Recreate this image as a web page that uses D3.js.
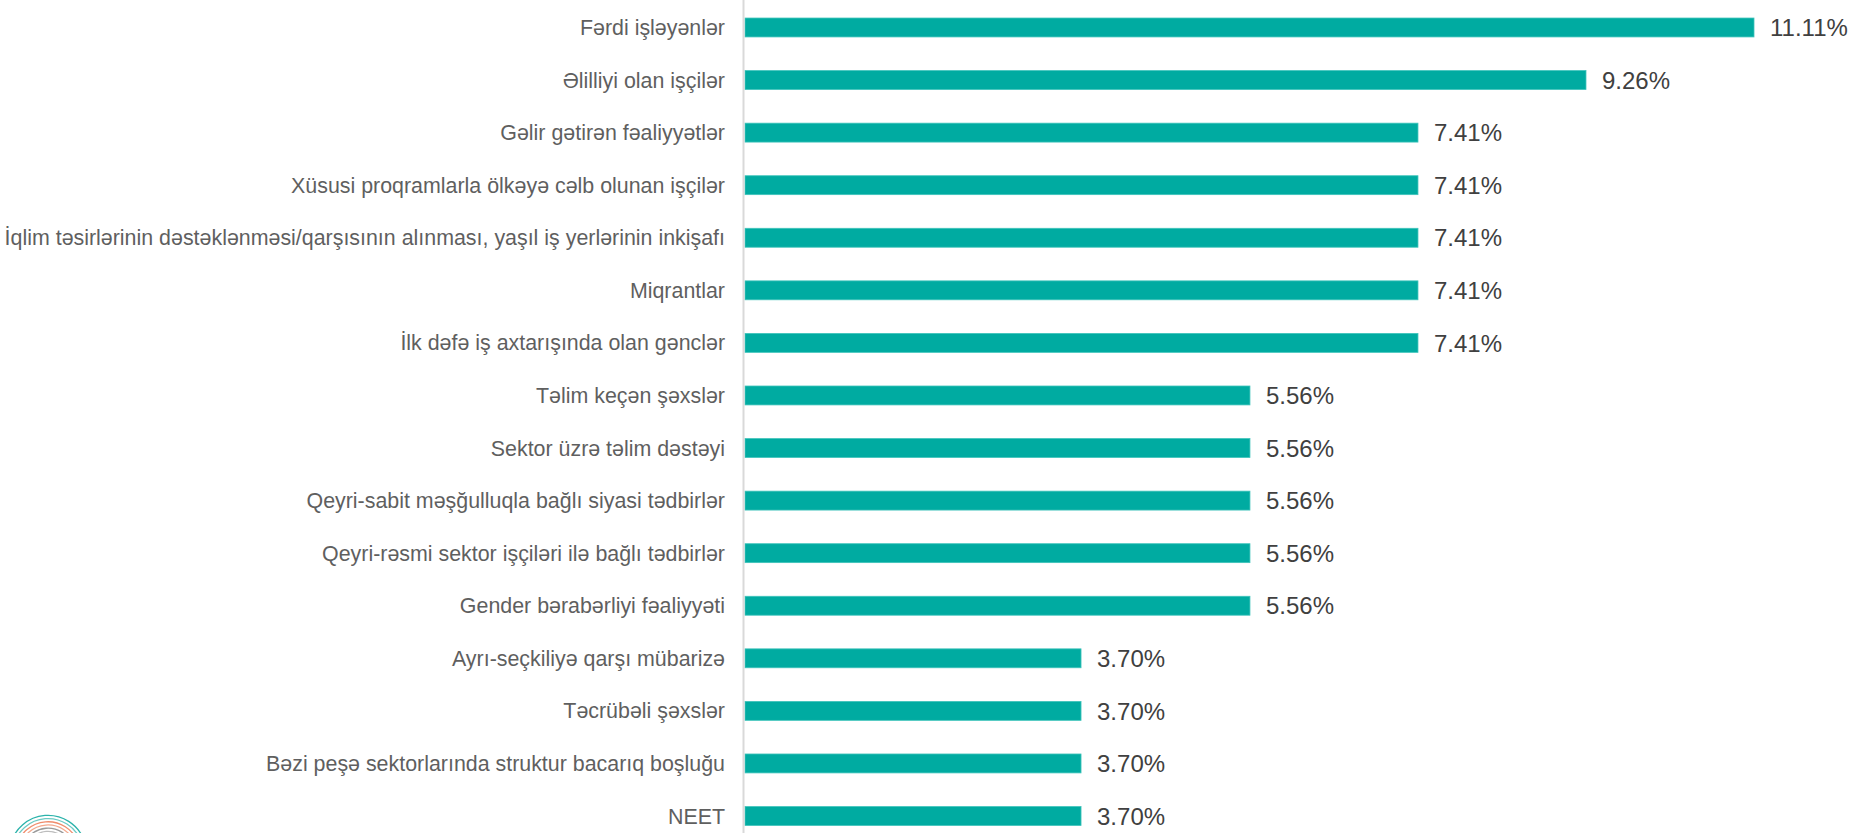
<!DOCTYPE html>
<html>
<head>
<meta charset="utf-8">
<script src="https://cdn.jsdelivr.net/npm/d3@7"></script>
<style>
  html, body { margin: 0; padding: 0; background: #fff; overflow: hidden; }
  text { font-family: "Liberation Sans", Arial, sans-serif; }
</style>
</head>
<body>
<script>
// categories, top to bottom
const categories = [
  "Fərdi işləyənlər",
  "Əlilliyi olan işçilər",
  "Gəlir gətirən fəaliyyətlər",
  "Xüsusi proqramlarla ölkəyə cəlb olunan işçilər",
  "İqlim təsirlərinin dəstəklənməsi/qarşısının alınması, yaşıl iş yerlərinin inkişafı",
  "Miqrantlar",
  "İlk dəfə iş axtarışında olan gənclər",
  "Təlim keçən şəxslər",
  "Sektor üzrə təlim dəstəyi",
  "Qeyri-sabit məşğulluqla bağlı siyasi tədbirlər",
  "Qeyri-rəsmi sektor işçiləri ilə bağlı tədbirlər",
  "Gender bərabərliyi fəaliyyəti",
  "Ayrı-seçkiliyə qarşı mübarizə",
  "Təcrübəli şəxslər",
  "Bəzi peşə sektorlarında struktur bacarıq boşluğu",
  "NEET"
];

// percentage values
const values = [11.11, 9.26, 7.41, 7.41, 7.41, 7.41, 7.41, 5.56, 5.56, 5.56, 5.56, 5.56, 3.70, 3.70, 3.70, 3.70];

const width = 1854, height = 833;
const barColor = "#00ABA1";

const svg = d3.select("body")
  .append("svg")
  .attr("width", width)
  .attr("height", height);

const data = categories.map((c, i) => ({ name: c, value: values[i] }));

const x = d3.scaleLinear()
  .domain([0, 11.11])
  .range([745, 1754]);

const y = d3.scaleBand()
  .domain(categories)
  .range([1.2, 842.3])
  .paddingInner(0.64)
  .paddingOuter(0.32);

// bars
svg.selectAll("rect.bar")
  .data(data)
  .enter()
  .append("rect")
  .attr("class", "bar")
  .attr("x", x(0))
  .attr("y", d => y(d.name))
  .attr("width", d => x(d.value) - x(0))
  .attr("height", y.bandwidth())
  .attr("fill", barColor)
  .attr("stroke", "#3fc4bb")
  .attr("stroke-width", 0.8);

// vertical axis line
svg.append("line")
  .attr("x1", 743.5)
  .attr("x2", 743.5)
  .attr("y1", 0)
  .attr("y2", height)
  .attr("stroke", "#d9d9d9")
  .attr("stroke-width", 2);

// category labels
svg.selectAll("text.cat")
  .data(data)
  .enter()
  .append("text")
  .attr("class", "cat")
  .attr("x", 725)
  .attr("y", d => y(d.name) + y.bandwidth() / 2)
  .attr("dy", "0.35em")
  .attr("text-anchor", "end")
  .attr("font-size", 21.4)
  .attr("fill", "#5f5f5f")
  .text(d => d.name);

// value labels
svg.selectAll("text.val")
  .data(data)
  .enter()
  .append("text")
  .attr("class", "val")
  .attr("x", d => x(d.value) + 16)
  .attr("y", d => y(d.name) + y.bandwidth() / 2)
  .attr("dy", "0.36em")
  .attr("font-size", 24)
  .attr("fill", "#404040")
  .text(d => d.value.toFixed(2) + "%");

// logo fragment in the bottom-left corner (cut off by the page edge)
const logo = svg.append("g").attr("transform", "translate(48, 854)");
const arcColors = ["#2bb3ab", "#6ccac4", "#f08c6c", "#f4a98e", "#9a9a9a", "#bdbdbd"];
arcColors.forEach((c, i) => {
  logo.append("path")
    .attr("d", d3.arc()
      .innerRadius(38 - i * 3.2)
      .outerRadius(39.3 - i * 3.2)
      .startAngle(-Math.PI / 2.3)
      .endAngle(Math.PI / 2.6)())
    .attr("fill", c);
});
</script>
</body>
</html>
